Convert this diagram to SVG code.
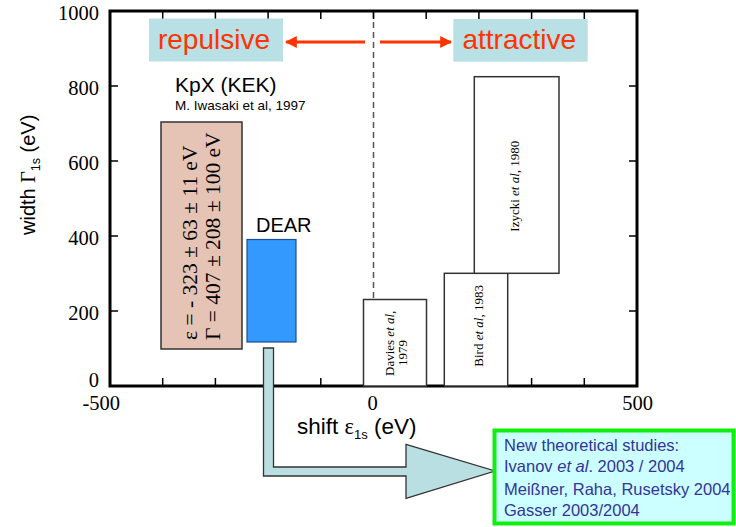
<svg xmlns="http://www.w3.org/2000/svg" width="736" height="527" viewBox="0 0 736 527">
  <defs>
    <marker id="redHead" viewBox="0 0 10 10" refX="9" refY="5" markerWidth="4" markerHeight="4" orient="auto-start-reverse" markerUnits="strokeWidth">
      <path d="M0,0 L10,5 L0,10 z" fill="#ff3300"/>
    </marker>
    <style>
      .sans { font-family: "Liberation Sans", Arial, sans-serif; }
      .serif { font-family: "Liberation Serif", "Times New Roman", serif; }
      .tick { stroke: #000; stroke-width: 1.5; }
      .tl { font-family: "Liberation Serif", "Times New Roman", serif; font-size: 20.5px; fill: #000; }
      .ref { fill: #fff; stroke: #333; stroke-width: 1.5; }
      .reftxt { font-family: "Liberation Serif", "Times New Roman", serif; font-size: 13px; fill: #000; }
      .tag { fill: #b9e0e4; }
      .tagtxt { font-family: "Liberation Sans", Arial, sans-serif; font-size: 28px; fill: #ff3300; }
      .red { stroke: #ff3300; stroke-width: 3; fill: none; }
      .note { font-family: "Liberation Sans", Arial, sans-serif; font-size: 16.5px; fill: #333399; }
    </style>
  </defs>

  <rect width="736" height="527" fill="#fff"/>

  <!-- axes frame and ticks -->
  <g id="axes">
    <line x1="373.5" y1="12" x2="373.5" y2="385" stroke="#555" stroke-width="1.5" stroke-dasharray="6,4"/>
    <g class="tick">
      <path d="M162.7,12v7M215.4,12v7M268.1,12v7M320.8,12v7M373.5,12v7M426.2,12v7M478.9,12v7M531.6,12v7M584.3,12v7"/>
      <path d="M162.7,385v-7M215.4,385v-7M268.1,385v-7M320.8,385v-7M373.5,385v-7M426.2,385v-7M478.9,385v-7M531.6,385v-7M584.3,385v-7"/>
      <path d="M111,86h7M111,161h7M111,236h7M111,311h7"/>
      <path d="M636,86h-7M636,161h-7M636,236h-7M636,311h-7"/>
    </g>
    <rect x="110" y="11" width="527" height="375" fill="none" stroke="#000" stroke-width="3"/>
    <g class="tl" text-anchor="end">
      <text x="99" y="20">1000</text>
      <text x="99" y="95">800</text>
      <text x="99" y="170">600</text>
      <text x="99" y="245">400</text>
      <text x="99" y="320">200</text>
      <text x="99" y="387">0</text>
    </g>
    <g class="tl">
      <text x="120" y="409.5" text-anchor="end">-500</text>
      <text x="372.5" y="409.5" text-anchor="middle">0</text>
      <text x="637.5" y="409.5" text-anchor="middle">500</text>
    </g>
    <text class="sans" x="297" y="434" font-size="22.5" fill="#000">shift <tspan class="serif">ε</tspan><tspan font-size="13" dy="5">1s</tspan><tspan dy="-5"> (eV)</tspan></text>
    <text class="sans" transform="translate(35,235) rotate(-90)" font-size="20" fill="#000">width <tspan class="serif">Γ</tspan><tspan font-size="12.5" dy="5">1s</tspan><tspan dy="-5"> (eV)</tspan></text>
  </g>

  <!-- region tags -->
  <g id="repulsive">
    <rect class="tag" x="149" y="18.5" width="134" height="43"/>
    <text class="tagtxt" x="214" y="49.3" text-anchor="middle">repulsive</text>
  </g>
  <g id="attractive">
    <rect class="tag" x="453.3" y="19" width="134.4" height="42.7"/>
    <text class="tagtxt" x="519.3" y="49" text-anchor="middle">attractive</text>
  </g>

  <!-- measurements -->
  <g id="kpx">
    <text class="sans" x="175" y="91.5" font-size="21" fill="#000">KpX (KEK)</text>
    <text class="sans" x="175" y="110" font-size="13.5" fill="#000">M. Iwasaki et al, 1997</text>
    <rect x="161" y="122" width="81" height="227" fill="#e5c3b5" stroke="#333" stroke-width="1.5"/>
    <text class="serif" transform="translate(197,340) rotate(-90)" font-size="21.5" fill="#000">ε = - 323 ± 63 ± 11 eV</text>
    <text class="serif" transform="translate(220,340) rotate(-90)" font-size="21.5" fill="#000">Γ = 407 ± 208 ± 100 eV</text>
  </g>
  <g id="dear">
    <text class="sans" x="256" y="231.5" font-size="20" fill="#000">DEAR</text>
    <rect x="247" y="239.5" width="49" height="102.5" fill="#3399ff" stroke="#1f4e8c" stroke-width="1.2"/>
  </g>
  <g id="davies">
    <rect class="ref" x="363.5" y="299.5" width="63" height="86.5"/>
    <text class="reftxt" transform="translate(393.5,376) rotate(-90)">Davies <tspan font-style="italic">et al</tspan>,</text>
    <text class="reftxt" transform="translate(406.5,353) rotate(-90)" text-anchor="middle">1979</text>
  </g>
  <g id="bird">
    <rect class="ref" x="444.3" y="273.3" width="63.4" height="112.7"/>
    <text class="reftxt" transform="translate(483,366.7) rotate(-90)">Bird <tspan font-style="italic">et al</tspan>, 1983</text>
  </g>
  <g id="izycki">
    <rect class="ref" x="474.3" y="76.7" width="84.7" height="196.6"/>
    <text class="reftxt" transform="translate(519.3,231.7) rotate(-90)">Izycki <tspan font-style="italic">et al</tspan>, 1980</text>
  </g>

  <!-- connectors -->
  <g id="connectors">
    <line class="red" x1="365" y1="42" x2="286" y2="42" marker-end="url(#redHead)"/>
    <line class="red" x1="380" y1="42" x2="451" y2="42" marker-end="url(#redHead)"/>
    <path d="M263.5,348 H273.5 V467 H406 V444.3 L495,471 L406,498.3 V476 H263.5 Z" fill="#b9dfe2" stroke="#333" stroke-width="1.3" stroke-linejoin="miter"/>
  </g>

  <!-- theory note -->
  <g id="theory">
    <rect x="494.5" y="430.5" width="239" height="93" fill="#ccffff" stroke="#11ee11" stroke-width="4"/>
    <text class="note" x="504" y="451">New theoretical studies:</text>
    <text class="note" x="504" y="471.5">Ivanov <tspan font-style="italic">et al</tspan>. 2003 / 2004</text>
    <text class="note" x="504" y="494.5">Meißner, Raha, Rusetsky 2004</text>
    <text class="note" x="504" y="515.5">Gasser 2003/2004</text>
  </g>
</svg>
